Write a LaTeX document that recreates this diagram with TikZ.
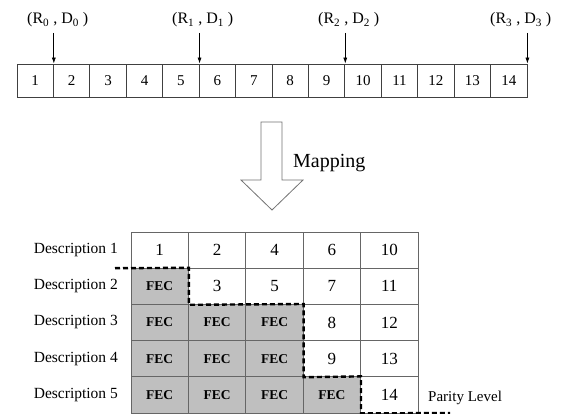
\documentclass[tikz,border=0pt]{standalone}
\usepackage{fontspec}
\setmainfont{Liberation Serif}
\usetikzlibrary{arrows.meta,calc}
\begin{document}
\begin{tikzpicture}[x=1pt,y=-1pt,
  strip/.style={draw=black!75,line width=0.8pt,minimum width=36.43pt,minimum height=33pt,inner sep=0pt,font=\fontsize{15}{15}\selectfont},
  cell/.style={draw=black!60,line width=0.8pt,minimum width=57.4pt,minimum height=36.2pt,inner sep=0pt,font=\fontsize{17}{17}\selectfont},
  fec/.style={cell,fill=black!25,font=\fontsize{13.5}{13.5}\selectfont\bfseries},
  lbl/.style={inner sep=0pt,font=\fontsize{16}{16}\selectfont},
  desc/.style={anchor=east,inner sep=0pt,font=\fontsize{15.5}{15.5}\selectfont},
  ptr/.style={-{Latex[length=6pt,width=4pt]},line width=0.7pt},
  bound/.style={dashed,dash pattern=on 5pt off 3pt,line width=2.4pt}]
\useasboundingbox (0,0) rectangle (562,414);
% strip
\foreach \i in {1,...,14}{
  \node[strip] (c\i) at ({17+36.43*(\i-0.5)},80.5) {\i};
}
% labels and pointers
\node[lbl,anchor=west] (l0) at (27,20) {(R\textsubscript{0} , D\textsubscript{0} )};
\node[lbl,anchor=west] (l1) at (172,20) {(R\textsubscript{1} , D\textsubscript{1} )};
\node[lbl,anchor=west] (l2) at (318,20) {(R\textsubscript{2} , D\textsubscript{2} )};
\node[lbl,anchor=west] (l3) at (490,20) {(R\textsubscript{3} , D\textsubscript{3} )};
\coordinate (a0) at (c1.north east |- 0,33);
\coordinate (a1) at (c5.north east |- 0,33);
\coordinate (a2) at (c9.north east |- 0,33);
\coordinate (a3) at (c14.north east |- 0,33);
\draw[ptr] (a0) -- (c1.north east);
\draw[ptr] (a1) -- (c5.north east);
\draw[ptr] (a2) -- (c9.north east);
\draw[ptr] (a3) -- (c14.north east);
% block arrow
\draw[black!55,line width=0.8pt,fill=white] (261,122) -- (282,122) -- (282,180) -- (303,180) -- (272,210) -- (241,180) -- (261,180) -- cycle;
\node[inner sep=0pt,anchor=west,font=\fontsize{20}{20}\selectfont] (map) at (293,163) {Mapping};
% table
\foreach \r/\a/\b/\c/\d/\e in {1/1/2/4/6/10, 2/FEC/3/5/7/11, 3/FEC/FEC/FEC/8/12, 4/FEC/FEC/FEC/9/13, 5/FEC/FEC/FEC/FEC/14}{
  \foreach \cc/\v in {1/\a,2/\b,3/\c,4/\d,5/\e}{
    \edef\val{\v}
    \def\fecstr{FEC}
    \ifx\val\fecstr
      \node[fec] (t\r\cc) at ({131+57.4*(\cc-0.5)},{232+36.2*(\r-0.5)}) {FEC};
    \else
      \node[cell] (t\r\cc) at ({131+57.4*(\cc-0.5)},{232+36.2*(\r-0.5)}) {\val};
    \fi
  }
  \node[desc] (d\r) at (118,{232+36.2*(\r-0.5)}) {Description \r};
}
\node[inner sep=0pt,anchor=west,font=\fontsize{15}{15}\selectfont] (par) at (428,398) {Parity Level};
% dashed boundary
\coordinate (bs) at (115,268.2);
\coordinate (be) at (450,413);
\draw[bound] (bs) -- (t21.north east) -- (t21.south east) -- (t33.north east) -- (t43.south east) -- (t54.north east) -- (t54.south east) -- (be);
\end{tikzpicture}
\end{document}
